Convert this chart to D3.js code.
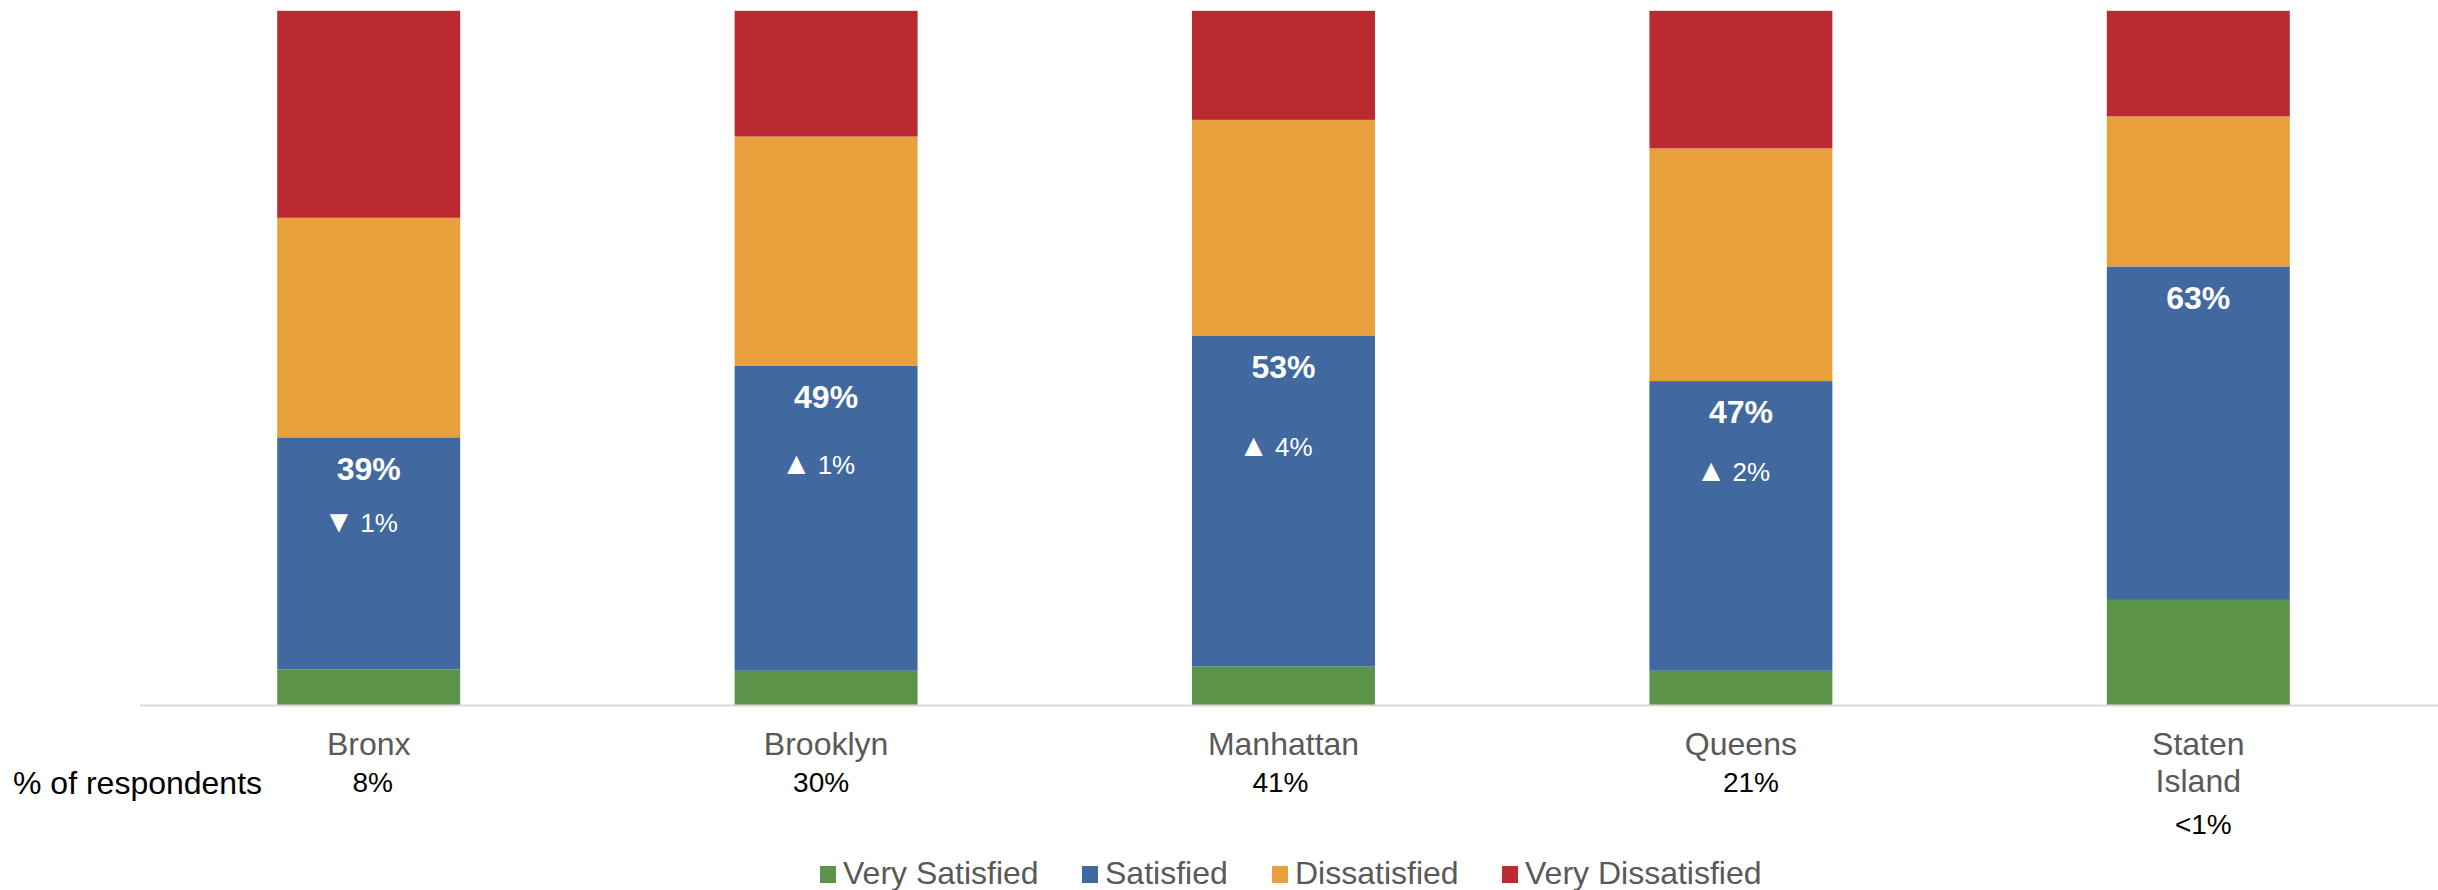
<!DOCTYPE html>
<html>
<head>
<meta charset="utf-8">
<script src="https://cdn.jsdelivr.net/npm/d3@7"></script>
<style>
  html, body { margin: 0; padding: 0; background: #fff; }
  svg { display: block; font-family: "Liberation Sans", Arial, sans-serif; }
</style>
</head>
<body>
<svg id="chart" width="2438" height="890"></svg>
<script>
// ---- data ----
const boroughs = ["Bronx", "Brooklyn", "Manhattan", "Queens", "Staten Island"];
const seriesNames = ["Very Satisfied", "Satisfied", "Dissatisfied", "Very Dissatisfied"];
const verySatisfied    = [5.2, 5.0, 5.6, 5.0, 15.2];
const satisfied        = [33.4, 43.9, 47.6, 41.7, 48.0];
const dissatisfied     = [31.6, 33.0, 31.1, 33.5, 21.6];
const veryDissatisfied = [29.8, 18.1, 15.7, 19.8, 15.2];
const satisfiedTotals  = ["39%", "49%", "53%", "47%", "63%"];
const changeArrows     = ["▼", "▲", "▲", "▲", ""];
const changeValues     = ["1%", "1%", "4%", "2%", ""];
const respondentShares = ["8%", "30%", "41%", "21%", "<1%"];
const respondentsTitle = "% of respondents";

// ---- layout (not data) ----
const colors = ["#5B9449", "#41699F", "#E8A03C", "#BC2A31"];
const changeOffsets = [55, 68, 80, 60, 0];   // px below the total label
const shareDx = [4, -5, -3, 10, 5];

const svg = d3.select("#chart");
const x = d3.scaleBand().domain(boroughs).range([140, 2427]).paddingInner(0.6).paddingOuter(0.3);
const y = d3.scaleLinear().domain([0, 100]).range([705.5, 10.8]);

const table = boroughs.map((b, i) => ({
  borough: b,
  "Very Satisfied": verySatisfied[i],
  "Satisfied": satisfied[i],
  "Dissatisfied": dissatisfied[i],
  "Very Dissatisfied": veryDissatisfied[i]
}));
const stacked = d3.stack().keys(seriesNames)(table);
const color = d3.scaleOrdinal().domain(seriesNames).range(colors);

svg.append("g").selectAll("g").data(stacked).join("g")
  .attr("fill", d => color(d.key))
  .selectAll("rect").data(d => d).join("rect")
  .attr("x", d => x(d.data.borough))
  .attr("width", x.bandwidth())
  .attr("y", d => y(d[1]))
  .attr("height", d => y(d[0]) - y(d[1]));

// axis baseline
const xAxis = d3.axisBottom(x).tickSize(0).tickFormat("");
const axisG = svg.append("g").attr("transform", `translate(0,${y(0)})`).call(xAxis);
axisG.select(".domain").attr("stroke", "#D9D9D9").attr("stroke-width", 2)
  .attr("d", `M140,0H2438`);

// category labels
const catG = svg.append("g").attr("font-size", 32).attr("fill", "#595959").attr("text-anchor", "middle");
boroughs.forEach((b, i) => {
  const cx = x(b) + x.bandwidth() / 2;
  const words = b === "Staten Island" ? ["Staten", "Island"] : [b];
  const t = catG.append("text").attr("x", cx).attr("y", 755);
  words.forEach((w, j) => t.append("tspan").attr("x", cx).attr("dy", j === 0 ? 0 : 37).text(w));
});

// respondents row
svg.append("text").attr("x", 13).attr("y", 794).attr("font-size", 32).attr("fill", "#000")
  .text(respondentsTitle);
const shareG = svg.append("g").attr("font-size", 28).attr("fill", "#000").attr("text-anchor", "middle");
boroughs.forEach((b, i) => {
  const cx = x(b) + x.bandwidth() / 2 + shareDx[i];
  shareG.append("text").attr("x", cx).attr("y", b === "Staten Island" ? 834 : 792).text(respondentShares[i]);
});

// totals & change labels inside blue segment
const satLayer = stacked[1];
const lblG = svg.append("g").attr("fill", "#fff").attr("text-anchor", "middle");
satLayer.forEach((d, i) => {
  const cx = x(d.data.borough) + x.bandwidth() / 2;
  const top = y(d[1]);
  lblG.append("text").attr("x", cx).attr("y", top + 31).attr("dy", "0.35em")
    .attr("font-size", 32).attr("font-weight", "bold").text(satisfiedTotals[i]);
  if (changeValues[i]) {
    const t = lblG.append("text").attr("x", cx - 8).attr("y", top + 31 + changeOffsets[i]).attr("dy", "0.35em")
      .attr("font-size", 26);
    t.append("tspan").attr("font-size", 31).text(changeArrows[i]);
    t.append("tspan").attr("dx", 6).text(changeValues[i]);
  }
});

// legend
const legend = svg.append("g").attr("font-size", 32).attr("fill", "#595959");
const legendX = [820, 1082, 1272, 1502];
seriesNames.forEach((s, i) => {
  const g = legend.append("g").attr("transform", `translate(${legendX[i]},0)`);
  g.append("rect").attr("x", 0).attr("y", 866).attr("width", 16).attr("height", 17).attr("fill", color(s));
  g.append("text").attr("x", 23).attr("y", 884).text(s);
});
</script>
</body>
</html>
